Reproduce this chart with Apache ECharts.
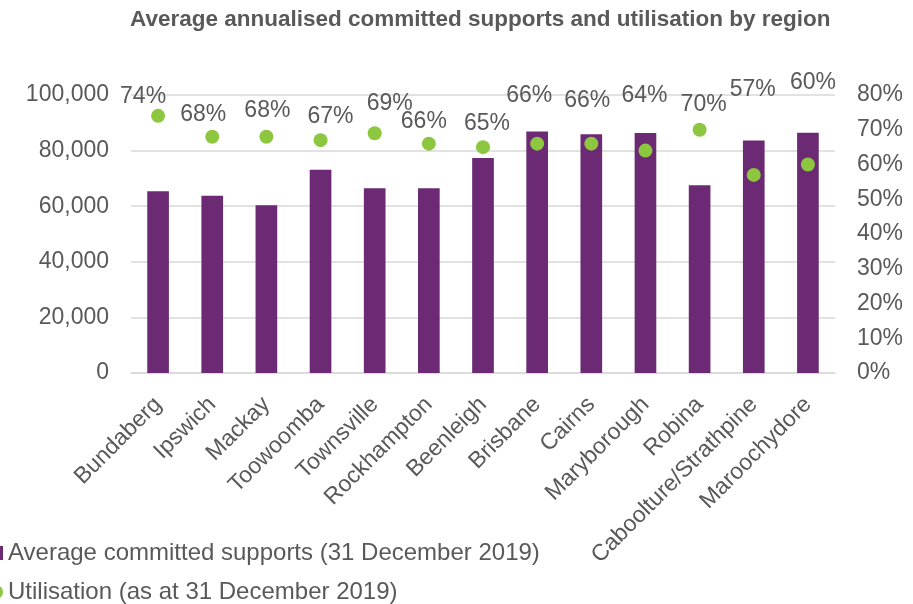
<!DOCTYPE html>
<html><head><meta charset="utf-8">
<script src="https://cdn.jsdelivr.net/npm/echarts@6/dist/echarts.min.js"></script>
<style>html,body{margin:0;padding:0;background:#fff}#c{width:913px;height:604px}</style>
</head><body><div id="c"></div>
<script>
const categories = ['Bundaberg','Ipswich','Mackay','Toowoomba','Townsville','Rockhampton','Beenleigh','Brisbane','Cairns','Maryborough','Robina','Caboolture/Strathpine','Maroochydore'];
const committedSupports = [65400, 63800, 60300, 73100, 66500, 66500, 77300, 86900, 85900, 86300, 67500, 83600, 86400];
const utilisation = [74, 68, 68, 67, 69, 66, 65, 66, 66, 64, 70, 57, 60];
const leftTicks = [0, 20000, 40000, 60000, 80000, 100000];
const rightTicks = [0, 10, 20, 30, 40, 50, 60, 70, 80];
// label placement (style only)
const labelOffsets = [[-15,-19],[-9,-22],[1,-26],[10,-24],[15,-30],[-5,-22],[4,-23],[-8,-48],[-4,-43],[-1,-55],[4,-25],[-1,-85],[5,-82]];

const txt = '#595959';
const font = 'Liberation Sans, Arial, sans-serif';
const chart = echarts.init(document.getElementById('c'));
chart.setOption({
  animation: false,
  textStyle: { fontFamily: font },
  title: {
    text: 'Average annualised committed supports and utilisation by region',
    left: 125, top: 3,
    textStyle: { fontFamily: font, fontSize: 22.5, fontWeight: 'bold', color: txt }
  },
  legend: {
    orient: 'vertical', left: -16, bottom: -5, itemGap: 15,
    textStyle: { fontFamily: font, fontSize: 24, color: txt },
    data: [
      { name: 'Average committed supports (31 December 2019)', icon: 'rect', itemStyle: { color: '#6B2A73' } },
      { name: 'Utilisation (as at 31 December 2019)', icon: 'circle' }
    ],
    itemWidth: 14, itemHeight: 14
  },
  grid: { left: 131, right: 78, top: 95, bottom: 231 },
  xAxis: {
    type: 'category', data: categories,
    axisLine: { lineStyle: { color: '#d9d9d9', width: 1.5 } },
    axisTick: { show: false },
    axisLabel: { rotate: 45, interval: 0, fontSize: 23, color: txt, fontFamily: font, margin: 28 }
  },
  yAxis: [
    {
      type: 'value', min: leftTicks[0], max: leftTicks[leftTicks.length-1], interval: leftTicks[1]-leftTicks[0],
      axisLine: { show: false }, axisTick: { show: false },
      splitLine: { lineStyle: { color: '#d9d9d9', width: 1.5 } },
      axisLabel: { fontSize: 23, color: txt, fontFamily: font, margin: 22,
        formatter: v => v.toLocaleString('en-US') }
    },
    {
      type: 'value', min: rightTicks[0], max: rightTicks[rightTicks.length-1], interval: rightTicks[1]-rightTicks[0],
      axisLine: { show: false }, axisTick: { show: false }, splitLine: { show: false },
      axisLabel: { fontSize: 23, color: txt, fontFamily: font, margin: 22, formatter: '{value}%' }
    }
  ],
  series: [
    {
      name: 'Average committed supports (31 December 2019)', type: 'bar',
      data: committedSupports, barWidth: '40%',
      itemStyle: { color: '#6B2A73' }
    },
    {
      name: 'Utilisation (as at 31 December 2019)', type: 'scatter', yAxisIndex: 1,
      symbolSize: 14, itemStyle: { color: '#8DC63F', opacity: 1 },
      data: utilisation.map((v, i) => ({
        value: v,
        label: { offset: labelOffsets[i] }
      })),
      label: { show: true, position: 'inside', formatter: '{c}%', fontSize: 23, color: txt, fontFamily: font }
    }
  ]
});
</script></body></html>
